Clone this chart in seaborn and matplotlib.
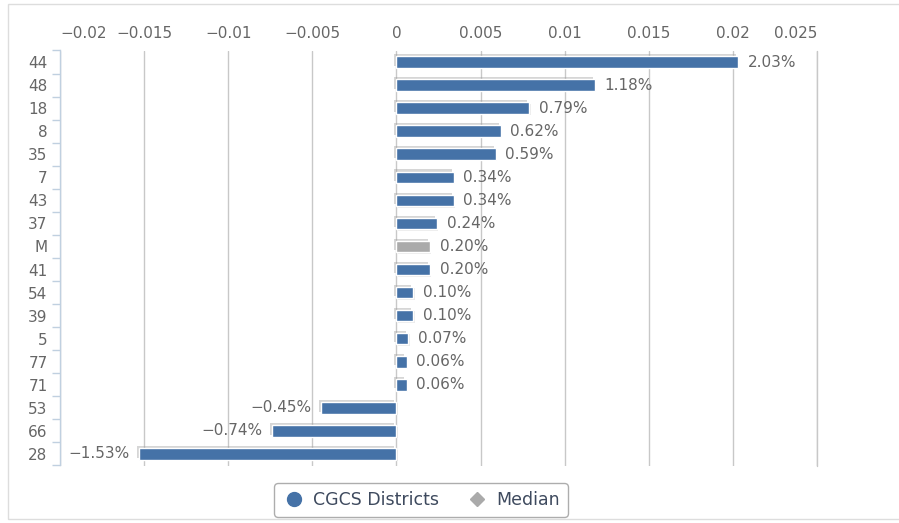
import matplotlib
matplotlib.use("Agg")
import matplotlib.pyplot as plt
import matplotlib.patheffects as pe
from matplotlib.lines import Line2D
from matplotlib.patches import Rectangle
import seaborn as sns
import pandas as pd
import numpy as np

categories = ["44", "48", "18", "8", "35", "7", "43", "37", "M", "41",
              "54", "39", "5", "77", "71", "53", "66", "28"]
values = [0.0203, 0.0118, 0.0079, 0.0062, 0.0059, 0.0034, 0.0034, 0.0024, 0.0020, 0.0020,
          0.0010, 0.0010, 0.0007, 0.0006, 0.0006, -0.0045, -0.0074, -0.0153]
groups = ["CGCS Districts"] * 8 + ["Median"] + ["CGCS Districts"] * 9
x_ticks = [-0.02, -0.015, -0.01, -0.005, 0, 0.005, 0.01, 0.015, 0.02, 0.025]
x_tick_labels = ["\u22120.02", "\u22120.015", "\u22120.01", "\u22120.005", "0",
                 "0.005", "0.01", "0.015", "0.02", "0.025"]
legend_labels = ["CGCS Districts", "Median"]

BLUE = "#4572a7"
GRAY = "#aaaaaa"
TXT = "#666666"
FS = 11

df = pd.DataFrame({"cat": categories, "val": values, "grp": groups})

sns.set_style("white")
plt.rcParams["font.family"] = ["DejaVu Sans"]

fig = plt.figure(figsize=(8.99, 5.23), dpi=100)
ax = fig.add_axes([60 / 899, 1 - 465.5 / 523, (817 - 60) / 899, (465.5 - 50.5) / 523])

sns.barplot(data=df, x="val", y="cat", hue="grp", orient="h", dodge=False,
            palette={"CGCS Districts": BLUE, "Median": GRAY}, width=0.5, saturation=1,
            edgecolor="white", linewidth=1.0, legend=False, ax=ax, zorder=3)

for p in ax.patches:
    p.set_path_effects([pe.SimplePatchShadow(offset=(-1.5, 1.5), shadow_rgbFace=(0.6, 0.6, 0.6), alpha=0.4),
                        pe.SimplePatchShadow(offset=(1.0, -1.0), shadow_rgbFace=(0.7, 0.7, 0.7), alpha=0.25),
                        pe.Normal()])

ax.set_xlim(-0.02, 0.025)
ax.set_ylim(len(categories) - 0.5, -0.5)

# value labels
for i, v in enumerate(values):
    lab = f"{v * 100:.2f}%".replace("-", "\u2212")
    if v >= 0:
        ax.annotate(lab, (v, i), xytext=(7, 0), textcoords="offset points",
                    ha="left", va="center", color=TXT, fontsize=FS)
    else:
        ax.annotate(lab, (v, i), xytext=(-7, 0), textcoords="offset points",
                    ha="right", va="center", color=TXT, fontsize=FS)

# x axis on top
ax.xaxis.tick_top()
ax.set_xticks(x_ticks)
ax.set_xticklabels(x_tick_labels, color=TXT, fontsize=FS)
ax.tick_params(axis="x", length=0, pad=7)
tl = ax.get_xticklabels()
tl[0].set_horizontalalignment("left")
tl[-1].set_horizontalalignment("right")

ax.grid(axis="x", color="#c8c8c8", linewidth=1, zorder=0)
ax.grid(axis="y", visible=False)
ax.axvline(0.025, color="#c8c8c8", linewidth=1, zorder=0, clip_on=False)
ax.set_xlabel("")
ax.set_ylabel("")

# y axis
ax.set_yticks(range(len(categories)))
ax.set_yticklabels(categories, color=TXT, fontsize=FS)
ax.set_yticks(np.arange(-0.5, len(categories), 1.0), minor=True)
ax.tick_params(axis="y", which="major", left=False, length=0, pad=9)
ax.tick_params(axis="y", which="minor", left=True, length=6, color="#c0d0e0", width=1)

for s in ["top", "right", "bottom"]:
    ax.spines[s].set_visible(False)
ax.spines["left"].set_color("#c0d0e0")
ax.spines["left"].set_linewidth(1)

# outer frame
fig.patches.append(Rectangle((8 / 899, 1 - 519 / 523), 1.0, 515 / 523, transform=fig.transFigure,
                             fill=False, edgecolor="#dddddd", linewidth=1))

handles = [Line2D([], [], marker="o", linestyle="", color=BLUE, markersize=10),
           Line2D([], [], marker="D", linestyle="", color=GRAY, markersize=7.5)]
leg = fig.legend(handles, legend_labels, loc="center", bbox_to_anchor=(421 / 899, 1 - 500 / 523),
                 ncol=2, frameon=True, fancybox=True, fontsize=12.5, handletextpad=0.4,
                 columnspacing=1.5, handlelength=1.4, borderpad=0.45, borderaxespad=0)
leg.get_frame().set_edgecolor("#999999")
leg.get_frame().set_linewidth(1)
for t in leg.get_texts():
    t.set_color("#3e4a5e")

fig.savefig("out.png", dpi=100)
